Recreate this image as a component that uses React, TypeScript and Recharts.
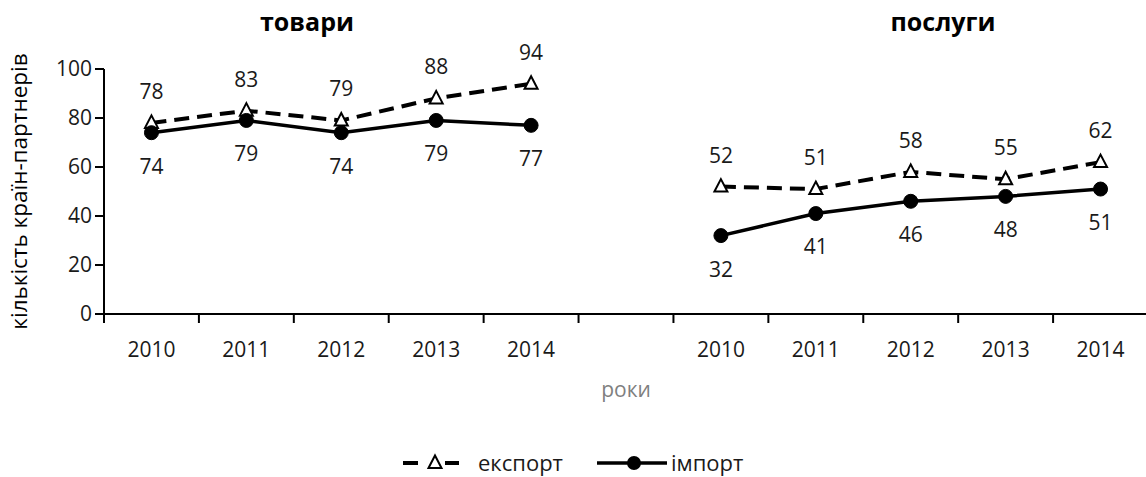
import React from 'react';
import { LineChart, Line, XAxis, YAxis, LabelList, Label } from 'recharts';

// 5 years of goods, one empty slot, 5 years of services
const categories = ['2010', '2011', '2012', '2013', '2014', '', '2010', '2011', '2012', '2013', '2014'];
const exportValues = [78, 83, 79, 88, 94, null, 52, 51, 58, 55, 62];
const importValues = [74, 79, 74, 79, 77, null, 32, 41, 46, 48, 51];
const yTicks = [0, 20, 40, 60, 80, 100];

const CHART_W = 1148;
const CHART_H = 477;
const Y_AXIS_W = 104;
const BAND = (CHART_W - Y_AXIS_W) / categories.length;
const FONT = "'Open Sans', 'Noto Sans', sans-serif";
const TEXT = '#1a1a1a';

const data = categories.map((year, i) => ({
  key: `c${i}`,
  year,
  export: exportValues[i],
  import: importValues[i],
}));

function YearTick(props: any) {
  const { x, y, payload, index } = props;
  const i = payload?.index ?? index;
  const left = x - BAND / 2;
  return (
    <g>
      <line x1={left} x2={left} y1={y} y2={y + 9} stroke="#000" strokeWidth={2} />
      <text x={x} y={y + 43} textAnchor="middle" fill={TEXT} fontSize={21}>
        {categories[i]}
      </text>
    </g>
  );
}

function TriangleDot(props: any) {
  const { cx, cy, index } = props;
  if (cx == null || cy == null) return <g key={`t${index}`} />;
  return (
    <path
      key={`t${index}`}
      d={`M${cx},${cy - 7.5} L${cx + 6.5},${cy + 5} L${cx - 6.5},${cy + 5} Z`}
      fill="#fff"
      stroke="#000"
      strokeWidth={2}
    />
  );
}

function CircleDot(props: any) {
  const { cx, cy, index } = props;
  if (cx == null || cy == null) return <g key={`d${index}`} />;
  return <circle key={`d${index}`} cx={cx} cy={cy} r={7} fill="#000" stroke="#000" />;
}

export default function App() {
  return (
    <div style={{ position: 'relative', width: 1146, height: 477, overflow: 'hidden', fontFamily: FONT, background: '#fff' }}>
      <style>{'body{margin:0}'}</style>
      <LineChart width={CHART_W} height={CHART_H} data={data} margin={{ top: 69, right: 0, left: 0, bottom: 73 }}>
        <XAxis
          dataKey="key"
          type="category"
          scale="band"
          interval={0}
          height={90}
          tickSize={0}
          tickMargin={0}
          tickLine={false}
          tick={<YearTick />}
          axisLine={{ stroke: '#000', strokeWidth: 2 }}
        >
          <Label
            content={(p: any) => {
              const vb = p.viewBox || {};
              return (
                <text x={vb.x + vb.width / 2} y={vb.y + 83} textAnchor="middle" fill="#7f7f7f" fontSize={21}>
                  роки
                </text>
              );
            }}
          />
        </XAxis>
        <YAxis
          width={Y_AXIS_W}
          domain={[0, 100]}
          ticks={yTicks}
          tickSize={9}
          tickMargin={3}
          tick={{ fill: TEXT, fontSize: 21 }}
          tickLine={{ stroke: '#000', strokeWidth: 2 }}
          axisLine={{ stroke: '#000', strokeWidth: 2 }}
        >
          <Label
            content={(p: any) => {
              const vb = p.viewBox || {};
              const cx = vb.x + 18;
              const cy = vb.y + vb.height / 2;
              return (
                <text
                  x={cx}
                  y={cy}
                  transform={`rotate(-90, ${cx}, ${cy})`}
                  textAnchor="middle"
                  dominantBaseline="central"
                  fill="#000"
                  fontSize={22.5}
                >
                  кількість країн-партнерів
                </text>
              );
            }}
          />
        </YAxis>
        <Line
          dataKey="export"
          stroke="#000"
          strokeWidth={4}
          strokeDasharray="15 8"
          dot={<TriangleDot />}
          activeDot={false}
          connectNulls={false}
          isAnimationActive={false}
        >
          <LabelList dataKey="export" position="top" offset={24} fill={TEXT} fontSize={21} />
        </Line>
        <Line
          dataKey="import"
          stroke="#000"
          strokeWidth={3.5}
          dot={<CircleDot />}
          activeDot={false}
          connectNulls={false}
          isAnimationActive={false}
        >
          <LabelList dataKey="import" position="bottom" offset={26} fill={TEXT} fontSize={21} />
        </Line>
      </LineChart>

      <svg width={1146} height={477} style={{ position: 'absolute', left: 0, top: 0, pointerEvents: 'none' }}>
        <text x={307} y={31} textAnchor="middle" fontWeight="bold" fontSize={25} fill="#000">
          товари
        </text>
        <text x={943} y={31} textAnchor="middle" fontWeight="bold" fontSize={25} fill="#000">
          послуги
        </text>
        {/* legend */}
        <line x1={403} x2={418} y1={463} y2={463} stroke="#000" strokeWidth={4} />
        <line x1={445} x2={459} y1={463} y2={463} stroke="#000" strokeWidth={4} />
        <path d="M435,455.5 L441.5,468 L428.5,468 Z" fill="#fff" stroke="#000" strokeWidth={2} />
        <text x={478} y={470.5} fontSize={22} fill={TEXT}>
          експорт
        </text>
        <line x1={597} x2={667} y1={463} y2={463} stroke="#000" strokeWidth={3.5} />
        <circle cx={634} cy={463} r={7} fill="#000" />
        <text x={671} y={470.5} fontSize={22} fill={TEXT}>
          імпорт
        </text>
      </svg>
    </div>
  );
}
